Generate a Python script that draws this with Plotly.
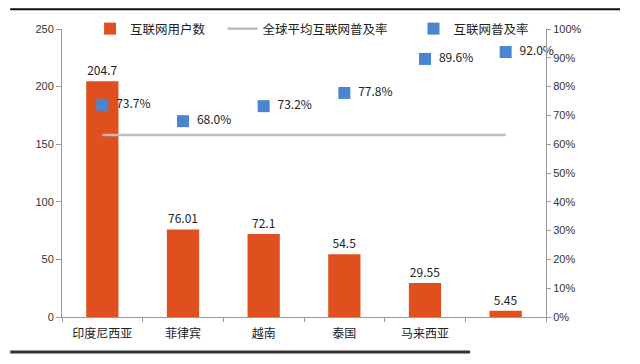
import plotly.graph_objects as go

categories = ["印度尼西亚", "菲律宾", "越南", "泰国", "马来西亚", ""]
cat_ids = ["c1", "c2", "c3", "c4", "c5", "c6"]
users = [204.7, 76.01, 72.1, 54.5, 29.55, 5.45]
user_labels = ["204.7", "76.01", "72.1", "54.5", "29.55", "5.45"]
penetration = [73.7, 68.0, 73.2, 77.8, 89.6, 92.0]
global_avg = [63.2] * 6

cjk = "Noto Sans CJK SC"
latin = "Liberation Sans, Arial, sans-serif"

fig = go.Figure()
fig.add_trace(go.Bar(
    x=cat_ids, y=users, name="互联网用户数\u3000",
    marker=dict(color="#E0501E", line=dict(width=0)),
    width=0.4,
    text=user_labels, textposition="outside",
    textfont=dict(family=cjk, size=12, color="#222"),
    cliponaxis=False,
))
fig.add_trace(go.Scatter(
    x=cat_ids, y=global_avg, name="全球平均互联网普及率\u3000\u00a0\u00a0\u00a0",
    mode="lines", line=dict(color="#BDBDBD", width=2.5),
    yaxis="y2",
))
fig.add_trace(go.Scatter(
    x=cat_ids, y=penetration, name="互联网普及率",
    mode="markers+text",
    marker=dict(symbol="square", size=12, color="#4A86D0"),
    text=[f"\u00a0\u00a0{v:.1f}%" for v in penetration], textposition="middle right",
    textfont=dict(family=cjk, size=12, color="#222"),
    yaxis="y2", cliponaxis=False,
))

fig.update_layout(
    width=632, height=356,
    margin=dict(l=54, r=94, t=21, b=47, autoexpand=False),
    paper_bgcolor="white", plot_bgcolor="white",
    font=dict(family=latin, size=11, color="#333"),
    showlegend=True,
    legend=dict(orientation="h", x=0.058, y=1.0, xanchor="left", yanchor="middle",
                font=dict(family=cjk, size=12.5, color="#222"),
                bgcolor="rgba(0,0,0,0)"),
    xaxis=dict(
        tickmode="array", tickvals=cat_ids, ticktext=categories,
        tickfont=dict(family=cjk, size=12, color="#222"),
        showline=True, linecolor="#999", linewidth=1,
        ticks="outside", tickson="boundaries", ticklen=4, tickcolor="#999",
        ticklabelstandoff=6,
        showgrid=False, range=[-0.5, 5.5],
    ),
    yaxis=dict(
        range=[0, 250], dtick=50, showgrid=False, zeroline=False,
        showline=True, linecolor="#999", linewidth=1,
        ticks="outside", ticklen=5, tickcolor="#999",
        tickfont=dict(family=latin, size=11, color="#333"),
    ),
    yaxis2=dict(
        overlaying="y", side="right", range=[0, 100], dtick=10,
        ticksuffix="%", showgrid=False, zeroline=False,
        showline=True, linecolor="#999", linewidth=1,
        ticks="outside", ticklen=4, tickcolor="#999",
        tickfont=dict(family=latin, size=11, color="#333"),
    ),
    shapes=[
        dict(type="line", xref="paper", yref="paper", x0=-0.107, x1=1.153,
             y0=1.069, y1=1.069, line=dict(color="#111", width=2)),
        dict(type="line", xref="paper", yref="paper", x0=-0.107, x1=0.843,
             y0=-0.1215, y1=-0.1215, line=dict(color="#333", width=3)),
    ],
)

fig.write_html("out.html")
